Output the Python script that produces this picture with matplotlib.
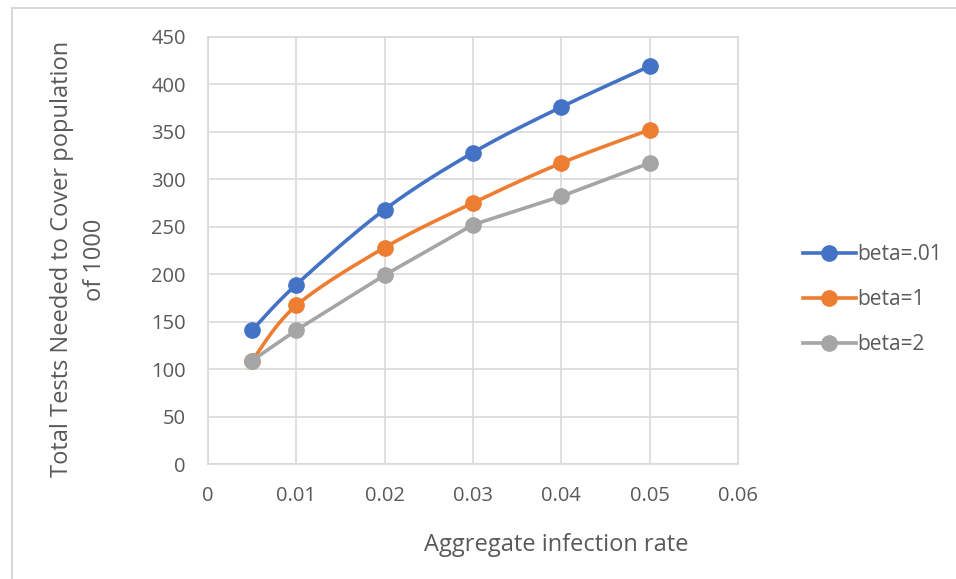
import numpy as np
import matplotlib.pyplot as plt

plt.rcParams['font.family'] = ['Open Sans', 'DejaVu Sans']

x = [0.005, 0.01, 0.02, 0.03, 0.04, 0.05]
beta_001 = [141, 189, 268, 328, 376, 419]
beta_1 = [109, 167, 228, 275, 317, 352]
beta_2 = [109, 141, 199, 252, 282, 317]
labels = ['beta=.01', 'beta=1', 'beta=2']
colors = ['#4472C4', '#ED7D31', '#A5A5A5']
smooth = [True, True, False]


def smooth_curve(xs, ys, n=30):
    # catmull-rom through the points, like excel's smoothed line
    p = np.column_stack([xs, ys]).astype(float)
    p = np.vstack([p[0], p, p[-1]])
    out = []
    for i in range(1, len(p) - 2):
        p0, p1, p2, p3 = p[i - 1], p[i], p[i + 1], p[i + 2]
        t = np.linspace(0, 1, n)[:, None]
        seg = 0.5 * ((2 * p1) + (-p0 + p2) * t + (2 * p0 - 5 * p1 + 4 * p2 - p3) * t**2
                     + (-p0 + 3 * p1 - 3 * p2 + p3) * t**3)
        out.append(seg)
    out = np.vstack(out)
    return out[:, 0], out[:, 1]


fig = plt.figure(figsize=(9.56, 5.79), dpi=100)
# chart area border (cut off at right and bottom in the original)
fig.patches.append(plt.Rectangle((11.5 / 956, -0.05), 1.1, 1.05 - 7.5 / 579,
                                 transform=fig.transFigure, fill=False,
                                 edgecolor='#D9D9D9', linewidth=1.5))
ax = fig.add_axes([0.2176, 0.1986, 0.5544, 0.738])

for ys, lab, c, sm in zip([beta_001, beta_1, beta_2], labels, colors, smooth):
    if sm:
        sx, sy = smooth_curve(x, ys)
    else:
        sx, sy = x, ys
    ax.plot(sx, sy, color=c, linewidth=2.6, solid_capstyle='round')
    ax.plot(x, ys, 'o', color=c, markersize=11)
    ax.plot([], [], '-o', color=c, linewidth=2.6, markersize=11, label=lab)

ax.set_xlim(0, 0.06)
ax.set_ylim(0, 450)
ax.set_xticks([0, 0.01, 0.02, 0.03, 0.04, 0.05, 0.06])
ax.set_xticklabels(['0', '0.01', '0.02', '0.03', '0.04', '0.05', '0.06'])
ax.set_yticks(range(0, 451, 50))
ax.grid(True, color='#D9D9D9', linewidth=1.2)
ax.set_axisbelow(True)
for s in ax.spines.values():
    s.set_color('#D9D9D9')
    s.set_linewidth(1.2)
ax.tick_params(length=0, labelsize=14.5, colors='#595959')
ax.tick_params(axis='y', pad=16)
ax.tick_params(axis='x', pad=16)

fig.text(0.0826, 0.552, 'Total Tests Needed to Cover population\nof 1000', rotation=90,
         ha='center', va='center', fontsize=17, color='#595959', linespacing=1.5)
fig.text(0.5816, 0.058, 'Aggregate infection rate', ha='center', va='center',
         fontsize=17, color='#595959')

leg = fig.legend(loc='center left', bbox_to_anchor=(0.820, 0.483), frameon=False,
                 fontsize=15, labelspacing=1.15, handlelength=2.55, handletextpad=0.05)
for t in leg.get_texts():
    t.set_color('#595959')

fig.savefig('out.png', dpi=100)
